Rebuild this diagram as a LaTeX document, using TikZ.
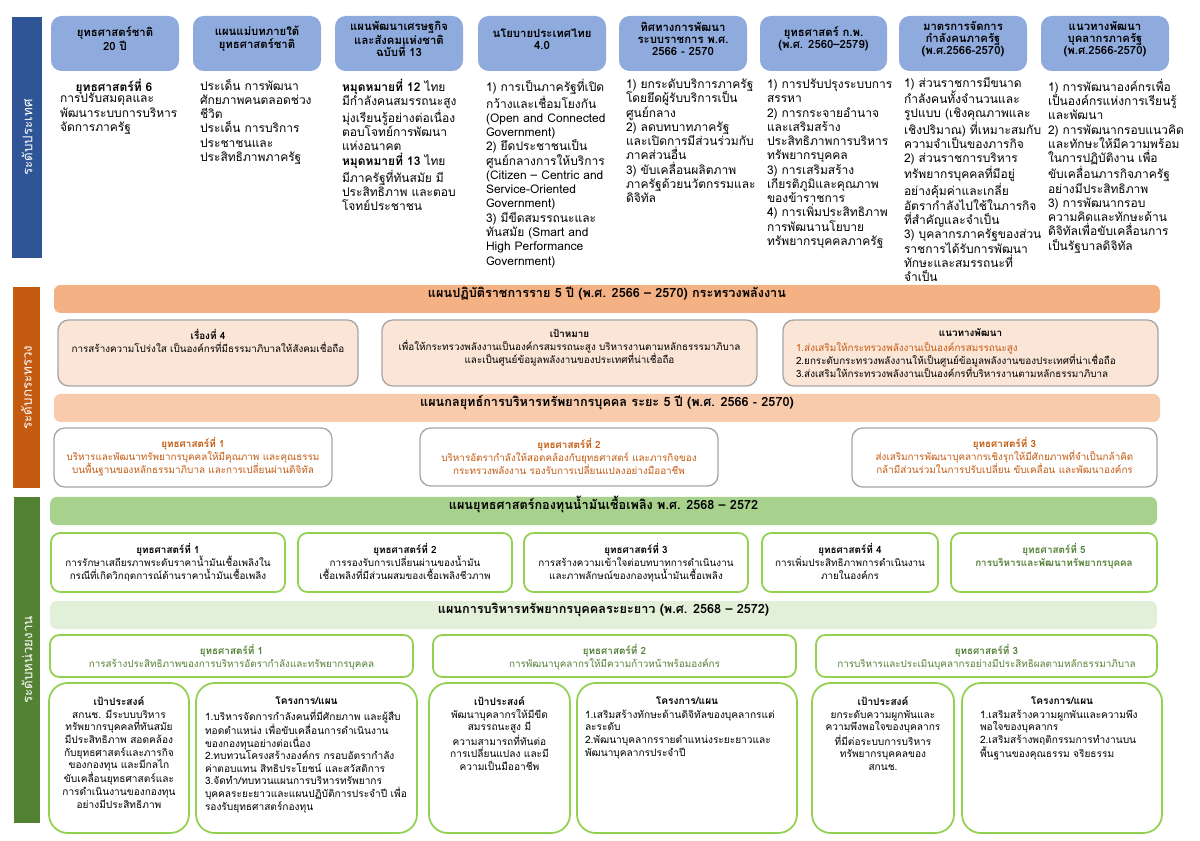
\documentclass[tikz,border=0pt]{standalone}
\usepackage{fontspec}
\setmainfont[Script=Thai]{Loma}
\usetikzlibrary{fit,calc}
\definecolor{sideblue}{HTML}{2F5597}
\definecolor{hdrblue}{HTML}{8FAADC}
\definecolor{sideorange}{HTML}{C55A11}
\definecolor{banorange}{HTML}{F4B183}
\definecolor{orlight}{HTML}{FBE5D6}
\definecolor{banorange2}{HTML}{F8CBAD}
\definecolor{obord}{HTML}{A6A6A6}
\definecolor{otext}{HTML}{C55A11}
\definecolor{sidegreen}{HTML}{548235}
\definecolor{bangreen}{HTML}{A9D18E}
\definecolor{bangreen2}{HTML}{E2F0D9}
\definecolor{gbord}{HTML}{92D050}
\definecolor{gtext}{HTML}{538135}
\newcommand\fbody{\fontsize{9}{10.7}\selectfont}
\newcommand\fbodyb{\fontsize{9}{10.4}\selectfont}
\newcommand\fhdr{\fontsize{8.5}{9.2}\selectfont\bfseries}
\newcommand\fmin{\fontsize{7.4}{9.8}\selectfont}
\newcommand\fbot{\fontsize{7.6}{9.4}\selectfont}
\newcommand\fban{\fontsize{9.5}{11}\selectfont\bfseries}
\newcommand\fside{\fontsize{10}{12}\selectfont}
\begin{document}
\begin{tikzpicture}[x=0.75pt,y=-0.75pt,
  every node/.style={inner sep=0pt, outer sep=0pt},
  sidebar/.style={draw=none},
  sidetxt/.style={rotate=90, text=white, font=\fside},
  hdr/.style={fill=hdrblue, draw=none, rounded corners=8pt, align=center, font=\fhdr},
  bodytxt/.style={anchor=north west, align=left, font=\fbody},
  banner/.style={draw=none, rounded corners=5pt, align=center, font=\fban},
  obox/.style={fill=orlight, draw=obord, line width=1pt, rounded corners=8pt},
  sbox/.style={fill=white, draw=obord, line width=1pt, rounded corners=8pt},
  gbox/.style={fill=white, draw=gbord, line width=1.3pt, rounded corners=7pt},
  bbox/.style={fill=white, draw=gbord, line width=1.3pt, rounded corners=14pt},
  mintxt/.style={anchor=north, align=center, font=\fmin},
  bottxt/.style={anchor=north, align=center, font=\fbot},
  botlist/.style={anchor=north west, align=left, font=\fbot}
]
\useasboundingbox (0,0) rectangle (1200,841);
\fill[white] (0,0) rectangle (1200,841);

% ===== national level =====
\node[sidebar, fill=sideblue, fit={(12,17)(42,258)}] (s1) {};
\node[sidetxt] (s1t) at (s1.center) {ระดับประเทศ};

\node[hdr, fit={(51,16)(179,71)}] (h1) {ยุทธศาสตร์ชาติ\\20 ปี};
\node[hdr, fit={(193,16)(321,71)}] (h2) {แผนแม่บทภายใต้\\ยุทธศาสตร์ชาติ};
\node[hdr, fit={(335,16)(463,71)}] (h3) {แผนพัฒนาเศรษฐกิจ\\และสังคมแห่งชาติ\\ฉบับที่ 13};
\node[hdr, fit={(478,16)(606,71)}] (h4) {นโยบายประเทศไทย\\4.0};
\node[hdr, fit={(619,16)(747,71)}] (h5) {ทิศทางการพัฒนา\\ระบบราชการ พ.ศ.\\2566 - 2570};
\node[hdr, fit={(760,16)(887,71)}] (h6) {ยุทธศาสตร์ ก.พ.\\(พ.ศ. 2560–2579)};
\node[hdr, fit={(899,16)(1027,71)}] (h7) {มาตรการจัดการ\\กำลังคนภาครัฐ\\(พ.ศ.2566-2570)};
\node[hdr, fit={(1041,16)(1169,71)}] (h8) {แนวทางพัฒนา\\บุคลากรภาครัฐ\\(พ.ศ.2566-2570)};

\node[anchor=north, font=\fbody\bfseries] (c1a) at (114,79) {ยุทธศาสตร์ที่ 6};
\node[bodytxt] (c1) at (60,93.3) {การปรับสมดุลและ\\พัฒนาระบบการบริหาร\\จัดการภาครัฐ};
\node[bodytxt] (c2) at (200,79) {ประเด็น การพัฒนา\\ศักยภาพคนตลอดช่วง\\ชีวิต\\ประเด็น การบริการ\\ประชาชนและ\\ประสิทธิภาพภาครัฐ};
\node[bodytxt] (c3) at (342,79) {\textbf{หมุดหมายที่ 12} ไทย\\มีกำลังคนสมรรถนะสูง\\มุ่งเรียนรู้อย่างต่อเนื่อง\\ตอบโจทย์การพัฒนา\\แห่งอนาคต\\\textbf{หมุดหมายที่ 13} ไทย\\มีภาครัฐที่ทันสมัย มี\\ประสิทธิภาพ และตอบ\\โจทย์ประชาชน};
\node[bodytxt] (c4) at (486,79) {1) การเป็นภาครัฐที่เปิด\\กว้างและเชื่อมโยงกัน\\(Open and Connected\\Government)\\2) ยึดประชาชนเป็น\\ศูนย์กลางการให้บริการ\\(Citizen – Centric and\\Service-Oriented\\Government)\\3) มีขีดสมรรถนะและ\\ทันสมัย (Smart and\\High Performance\\Government)};
\node[bodytxt] (c5) at (626,79) {1) ยกระดับบริการภาครัฐ\\โดยยึดผู้รับบริการเป็น\\ศูนย์กลาง\\2) ลดบทบาทภาครัฐ\\และเปิดการมีส่วนร่วมกับ\\ภาคส่วนอื่น\\3) ขับเคลื่อนผลิตภาพ\\ภาครัฐด้วยนวัตกรรมและ\\ดิจิทัล};
\node[bodytxt] (c6) at (767,79) {1) การปรับปรุงระบบการ\\สรรหา\\2) การกระจายอำนาจ\\และเสริมสร้าง\\ประสิทธิภาพการบริหาร\\ทรัพยากรบุคคล\\3) การเสริมสร้าง\\เกียรติภูมิและคุณภาพ\\ของข้าราชการ\\4) การเพิ่มประสิทธิภาพ\\การพัฒนานโยบาย\\ทรัพยากรบุคคลภาครัฐ};
\node[bodytxt, font=\fbodyb] (c7) at (904,77) {1) ส่วนราชการมีขนาด\\กำลังคนทั้งจำนวนและ\\รูปแบบ (เชิงคุณภาพและ\\เชิงปริมาณ) ที่เหมาะสมกับ\\ความจำเป็นของภารกิจ\\2) ส่วนราชการบริหาร\\ทรัพยากรบุคคลที่มีอยู่\\อย่างคุ้มค่าและเกลี่ย\\อัตรากำลังไปใช้ในภารกิจ\\ที่สำคัญและจำเป็น\\3) บุคลากรภาครัฐของส่วน\\ราชการได้รับการพัฒนา\\ทักษะและสมรรถนะที่\\จำเป็น};
\node[bodytxt] (c8) at (1048,79) {1) การพัฒนาองค์กรเพื่อ\\เป็นองค์กรแห่งการเรียนรู้\\และพัฒนา\\2) การพัฒนากรอบแนวคิด\\และทักษะให้มีความพร้อม\\ในการปฏิบัติงาน เพื่อ\\ขับเคลื่อนภารกิจภาครัฐ\\อย่างมีประสิทธิภาพ\\3) การพัฒนากรอบ\\ความคิดและทักษะด้าน\\ดิจิทัลเพื่อขับเคลื่อนการ\\เป็นรัฐบาลดิจิทัล};

% ===== ministry level =====
\node[sidebar, fill=sideorange, fit={(13,287)(40,488)}] (s2) {};
\node[sidetxt] (s2t) at (s2.center) {ระดับกระทรวง};

\node[banner, fill=banorange, fit={(54,285)(1160,313)}] (b1) {แผนปฏิบัติราชการราย 5 ปี (พ.ศ. 2566 – 2570) กระทรวงพลังงาน};
\node[obox, fit={(58,320)(358,386)}] (oa) {};
\node[mintxt] (oat) at ($(oa.north)+(0,9)$) {\textbf{เรื่องที่ 4}\\การสร้างความโปร่งใส เป็นองค์กรที่มีธรรมาภิบาลให้สังคมเชื่อถือ};
\node[obox, fit={(382,320)(757,386)}] (ob) {};
\node[mintxt] (obt) at ($(ob.north)+(0,9)$) {\textbf{เป้าหมาย}\\เพื่อให้กระทรวงพลังงานเป็นองค์กรสมรรถนะสูง บริหารงานตามหลักธรรรมาภิบาล\\และเป็นศูนย์ข้อมูลพลังงานของประเทศที่น่าเชื่อถือ};
\node[obox, fit={(783,320)(1158,386)}] (oc) {};
\node[mintxt] (oct) at ($(oc.north)+(0,9)$) {\textbf{แนวทางพัฒนา}};
\node[anchor=north west, align=left, font=\fmin] (ocl) at (796,342) {\textcolor{otext}{1.ส่งเสริมให้กระทรวงพลังงานเป็นองค์กรสมรรถนะสูง}\\2.ยกระดับกระทรวงพลังงานให้เป็นศูนย์ข้อมูลพลังงานของประเทศที่น่าเชื่อถือ\\3.ส่งเสริมให้กระทรวงพลังงานเป็นองค์กรที่บริหารงานตามหลักธรรมาภิบาล};

\node[banner, fill=banorange2, fit={(54,394)(1160,422)}] (b2) {แผนกลยุทธ์การบริหารทรัพยากรบุคคล ระยะ 5 ปี (พ.ศ. 2566 - 2570)};
\node[sbox, fit={(54,428)(332,487)}] (sa) {};
\node[mintxt, text=otext] (sat) at ($(sa.north)+(0,9)$) {\textbf{ยุทธศาสตร์ที่ 1}\\บริหารและพัฒนาทรัพยากรบุคคลให้มีคุณภาพ และคุณธรรม\\บนพื้นฐานของหลักธรรมาภิบาล และการเปลี่ยนผ่านดิจิทัล};
\node[sbox, fit={(420,428)(718,486)}] (sb) {};
\node[mintxt, text=otext] (sbt) at ($(sb.north)+(0,10)$) {\textbf{ยุทธศาสตร์ที่ 2}\\บริหารอัตรากำลังให้สอดคล้องกับยุทธศาสตร์ และภารกิจของ\\กระทรวงพลังงาน รองรับการเปลี่ยนแปลงอย่างมืออาชีพ};
\node[sbox, fit={(852,428)(1157,487)}] (sc) {};
\node[mintxt, text=otext] (sct) at ($(sc.north)+(0,9)$) {\textbf{ยุทธศาสตร์ที่ 3}\\ส่งเสริมการพัฒนาบุคลากรเชิงรุกให้มีศักยภาพที่จำเป็นกล้าคิด\\กล้ามีส่วนร่วมในการปรับเปลี่ยน ขับเคลื่อน และพัฒนาองค์กร};

% ===== agency level =====
\node[sidebar, fill=sidegreen, fit={(14,497)(40,823)}] (s3) {};
\node[sidetxt] (s3t) at (s3.center) {ระดับหน่วยงาน};

\node[banner, fill=bangreen, fit={(50,497)(1157,525)}] (g1) {แผนยุทธศาสตร์กองทุนน้ำมันเชื้อเพลิง พ.ศ. 2568 – 2572};
\node[gbox, fit={(51,533)(285,592)}] (ga) {};
\node[mintxt] (gat) at ($(ga.north)+(0,10)$) {\textbf{ยุทธศาสตร์ที่ 1}\\การรักษาเสถียรภาพระดับราคาน้ำมันเชื้อเพลิงใน\\กรณีที่เกิดวิกฤตการณ์ด้านราคาน้ำมันเชื้อเพลิง};
\node[gbox, fit={(298,533)(512,592)}] (gb) {};
\node[mintxt] (gbt) at ($(gb.north)+(0,10)$) {\textbf{ยุทธศาสตร์ที่ 2}\\การรองรับการเปลี่ยนผ่านของน้ำมัน\\เชื้อเพลิงที่มีส่วนผสมของเชื้อเพลิงชีวภาพ};
\node[gbox, fit={(524,533)(748,592)}] (gc) {};
\node[mintxt] (gct) at ($(gc.north)+(0,10)$) {\textbf{ยุทธศาสตร์ที่ 3}\\การสร้างความเข้าใจต่อบทบาทการดำเนินงาน\\และภาพลักษณ์ของกองทุนน้ำมันเชื้อเพลิง};
\node[gbox, fit={(762,533)(938,592)}] (gd) {};
\node[mintxt] (gdt) at ($(gd.north)+(0,10)$) {\textbf{ยุทธศาสตร์ที่ 4}\\การเพิ่มประสิทธิภาพการดำเนินงาน\\ภายในองค์กร};
\node[gbox, fit={(951,533)(1157,592)}] (ge) {};
\node[mintxt, text=gtext] (get) at ($(ge.north)+(0,10)$) {\textbf{ยุทธศาสตร์ที่ 5}\\\textbf{การบริหารและพัฒนาทรัพยากรบุคคล}};

\node[banner, fill=bangreen2, fit={(50,601)(1157,629)}] (g2) {แผนการบริหารทรัพยากรบุคคลระยะยาว (พ.ศ. 2568 – 2572)};
\node[gbox, fit={(50,635)(413,677)}] (ha) {};
\node[mintxt, text=gtext] (hat) at ($(ha.north)+(0,9)$) {\textbf{ยุทธศาสตร์ที่ 1}\\การสร้างประสิทธิภาพของการบริหารอัตรากำลังและทรัพยากรบุคคล};
\node[gbox, fit={(433,635)(796,677)}] (hb) {};
\node[mintxt, text=gtext] (hbt) at ($(hb.north)+(0,9)$) {\textbf{ยุทธศาสตร์ที่ 2}\\การพัฒนาบุคลากรให้มีความก้าวหน้าพร้อมองค์กร};
\node[gbox, fit={(816,635)(1157,677)}] (hc) {};
\node[mintxt, text=gtext] (hct) at ($(hc.north)+(0,9)$) {\textbf{ยุทธศาสตร์ที่ 3}\\การบริหารและประเมินบุคลากรอย่างมีประสิทธิผลตามหลักธรรมาภิบาล};

\node[bbox, fit={(49,683)(189,833)}] (da) {};
\node[bottxt] (dat) at ($(da.north)+(0,14)$) {\textbf{เป้าประสงค์}\\สกนช. มีระบบบริหาร\\ทรัพยากรบุคคลที่ทันสมัย\\มีประสิทธิภาพ สอดคล้อง\\กับยุทธศาสตร์และภารกิจ\\ของกองทุน และมีกลไก\\ขับเคลื่อนยุทธศาสตร์และ\\การดำเนินงานของกองทุน\\อย่างมีประสิทธิภาพ};
\node[bbox, fit={(196,683)(417,833)}] (ea) {};
\node[bottxt] (eat) at ($(ea.north)+(0,14)$) {\textbf{โครงการ/แผน}};
\node[botlist] (eal) at (205,710) {1.บริหารจัดการกำลังคนที่มีศักยภาพ และผู้สืบ\\ทอดตำแหน่ง เพื่อขับเคลื่อนการดำเนินงาน\\ของกองทุนอย่างต่อเนื่อง\\2.ทบทวนโครงสร้างองค์กร กรอบอัตรากำลัง\\ค่าตอบแทน สิทธิประโยชน์ และสวัสดิการ\\3.จัดทำ/ทบทวนแผนการบริหารทรัพยากร\\บุคคลระยะยาวและแผนปฏิบัติการประจำปี เพื่อ\\รองรับยุทธศาสตร์กองทุน};
\node[bbox, fit={(429,683)(570,833)}] (db) {};
\node[bottxt] (dbt) at ($(db.north)+(0,14)$) {\textbf{เป้าประสงค์}\\พัฒนาบุคลากรให้มีขีด\\สมรรถนะสูง มี\\ความสามารถที่ทันต่อ\\การเปลี่ยนแปลง และมี\\ความเป็นมืออาชีพ};
\node[bbox, fit={(577,683)(797,833)}] (eb) {};
\node[bottxt] (ebt) at ($(eb.north)+(0,14)$) {\textbf{โครงการ/แผน}};
\node[botlist] (ebl) at (585,710) {1.เสริมสร้างทักษะด้านดิจิทัลของบุคลากรแต่\\ละระดับ\\2.พัฒนาบุคลากรรายตำแหน่งระยะยาวและ\\พัฒนาบุคลากรประจำปี};
\node[bbox, fit={(812,683)(954,833)}] (dc) {};
\node[bottxt] (dct) at ($(dc.north)+(0,14)$) {\textbf{เป้าประสงค์}\\ยกระดับความผูกพันและ\\ความพึงพอใจของบุคลากร\\ที่มีต่อระบบการบริหาร\\ทรัพยากรบุคคลของ\\สกนช.};
\node[bbox, fit={(962,683)(1162,833)}] (ec) {};
\node[bottxt] (ect) at ($(ec.north)+(0,14)$) {\textbf{โครงการ/แผน}};
\node[botlist] (ecl) at (980,710) {1.เสริมสร้างความผูกพันและความพึง\\พอใจของบุคลากร\\2.เสริมสร้างพฤติกรรมการทำงานบน\\พื้นฐานของคุณธรรม จริยธรรม};
\end{tikzpicture}
\end{document}
